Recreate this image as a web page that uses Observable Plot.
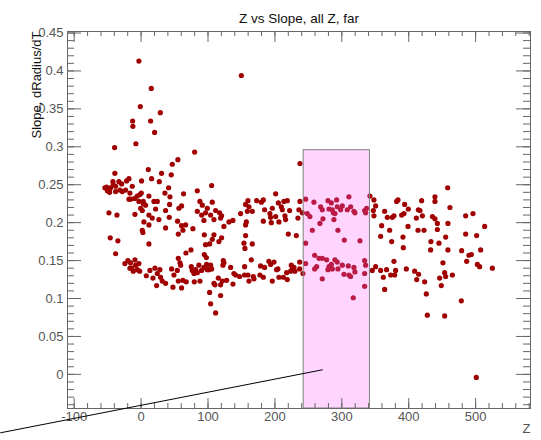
<!DOCTYPE html>
<html><head><meta charset="utf-8">
<script src="https://cdn.jsdelivr.net/npm/d3@7"></script>
<script src="https://cdn.jsdelivr.net/npm/@observablehq/plot@0.6"></script>
<style>body{margin:0;background:#fff}</style>
</head><body><div id="chart"></div>
<script>
// ---- data (Z, slope) ----
const highPoints = [[-3.3,0.413],[149.8,0.394],[15.2,0.377],[-1.2,0.353],[28.7,0.345],[-12.7,0.334],[14.2,0.334],[-12.3,0.327],[20.2,0.319],[-7.8,0.304],[-39.6,0.299],[80.0,0.293],[55.0,0.283],[46.6,0.277],[10.8,0.270],[-39.2,0.265],[30.6,0.265],[45.1,0.263],[237.4,0.278],[458.2,0.246]];
const leftUpper = [[-18.2,0.258],[15.7,0.258],[0.7,0.255],[27.2,0.254],[-21.7,0.255],[-42.2,0.254],[-33.2,0.254],[41.1,0.246],[105.4,0.249],[-51.6,0.247],[-47.1,0.243],[-38.1,0.248],[-29.1,0.251],[-28.1,0.241],[-23.2,0.243],[-16.7,0.239],[-13.2,0.248],[-9.7,0.232],[-18.2,0.231],[-1.8,0.237],[35.6,0.239],[43.1,0.234],[63.5,0.238],[84.0,0.242],[11.7,0.235],[19.2,0.228],[24.2,0.228],[3.3,0.228],[-48.1,0.213],[-36.1,0.210],[-9.2,0.211],[-0.7,0.219],[1.8,0.216],[6.7,0.223],[11.7,0.210],[4.2,0.201],[16.7,0.206],[21.7,0.218],[26.6,0.204],[11.7,0.197],[36.6,0.216],[42.6,0.224],[42.1,0.207],[60.5,0.222],[56.5,0.219],[54.5,0.202],[60.5,0.196],[66.5,0.197],[36.6,0.193],[1.8,0.190],[84.0,0.215],[87.9,0.228],[91.5,0.223],[99.0,0.219],[106.4,0.227],[90.5,0.210],[96.4,0.213],[103.9,0.210],[111.4,0.216],[117.3,0.213],[120.3,0.209],[108.9,0.204],[93.9,0.203],[118.8,0.206],[123.8,0.195],[131.3,0.201],[137.2,0.203],[148.7,0.212],[-54.1,0.246],[-50.5,0.242],[-45.6,0.246],[-41.6,0.250],[-31.7,0.243],[-15.7,0.231],[-5.7,0.235],[-3.3,0.228],[0.3,0.239],[3.3,0.225],[-38.1,0.241],[-47.1,0.240]];
const leftLower = [[2.7,0.187],[55.6,0.185],[62.5,0.190],[77.4,0.192],[94.5,0.184],[108.9,0.184],[106.4,0.178],[120.3,0.180],[116.3,0.175],[96.4,0.171],[-46.1,0.180],[-34.7,0.176],[11.7,0.172],[-38.1,0.159],[74.5,0.164],[67.0,0.160],[94.5,0.158],[97.5,0.154],[55.6,0.153],[58.1,0.147],[59.1,0.144],[122.9,0.150],[123.8,0.147],[122.3,0.144],[133.8,0.141],[147.2,0.129],[-24.2,0.146],[-19.7,0.150],[-15.7,0.147],[-14.2,0.140],[-9.2,0.151],[-8.2,0.144],[-5.7,0.138],[-3.3,0.146],[-11.7,0.136],[-2.2,0.136],[-16.7,0.140],[7.8,0.130],[13.2,0.137],[20.7,0.140],[24.2,0.133],[17.7,0.127],[28.1,0.138],[29.1,0.128],[31.6,0.123],[23.2,0.117],[36.6,0.120],[45.6,0.139],[49.1,0.131],[54.1,0.137],[55.6,0.123],[47.6,0.115],[60.5,0.114],[62.5,0.124],[67.5,0.122],[75.0,0.142],[76.5,0.137],[79.0,0.133],[81.5,0.138],[84.0,0.134],[86.4,0.144],[88.0,0.123],[79.5,0.122],[90.4,0.137],[93.9,0.141],[97.9,0.145],[98.9,0.138],[103.9,0.144],[101.4,0.138],[105.4,0.139],[108.9,0.120],[110.4,0.118],[102.4,0.108],[115.4,0.127],[118.8,0.118],[121.4,0.123],[118.8,0.104],[127.8,0.124],[137.3,0.119],[141.3,0.131],[103.9,0.093],[111.4,0.081],[138.7,0.133],[102.4,0.172]];
const middleUpper = [[201.1,0.238],[156.2,0.224],[161.2,0.221],[159.7,0.229],[172.6,0.229],[179.7,0.227],[182.7,0.230],[158.8,0.215],[166.2,0.215],[184.6,0.217],[192.5,0.212],[196.1,0.219],[193.6,0.207],[201.1,0.208],[205.1,0.226],[209.6,0.221],[213.5,0.228],[218.5,0.229],[211.1,0.217],[222.0,0.216],[215.0,0.209],[216.0,0.204],[206.0,0.201],[157.3,0.201],[182.7,0.202],[194.6,0.200],[235.9,0.217],[237.4,0.228],[234.4,0.206],[241.0,0.213],[245.9,0.231],[248.4,0.212],[252.3,0.208],[258.3,0.227],[268.3,0.221],[270.8,0.217],[271.8,0.205],[267.3,0.199],[279.3,0.229],[280.8,0.218],[284.3,0.226],[285.8,0.217],[287.3,0.213],[289.7,0.212],[288.2,0.204],[292.2,0.230],[293.2,0.221],[298.2,0.217],[300.7,0.222],[310.6,0.234],[308.2,0.217],[313.2,0.221],[318.1,0.215],[319.6,0.213],[334.1,0.216],[337.1,0.219],[335.6,0.213],[342.0,0.235],[348.0,0.230],[350.5,0.222],[347.1,0.216],[348.0,0.209],[364.0,0.215],[359.5,0.196],[294.2,0.190],[255.9,0.190],[156.2,0.197],[156.2,0.183],[153.7,0.173],[166.2,0.172],[155.2,0.166],[220.0,0.185],[232.0,0.183],[245.9,0.173],[303.7,0.177],[327.1,0.176],[358.0,0.182]];
const middleLower = [[164.7,0.151],[154.7,0.142],[178.6,0.143],[184.6,0.141],[191.0,0.149],[193.6,0.145],[198.6,0.148],[204.5,0.139],[224.5,0.144],[226.0,0.139],[228.4,0.141],[223.5,0.136],[229.9,0.136],[237.0,0.148],[237.0,0.139],[241.9,0.133],[245.9,0.146],[259.4,0.157],[265.9,0.153],[270.8,0.153],[277.3,0.151],[259.4,0.139],[262.4,0.142],[280.8,0.142],[279.3,0.138],[284.3,0.145],[285.8,0.139],[289.7,0.151],[293.2,0.148],[294.2,0.139],[300.7,0.144],[309.7,0.143],[318.1,0.141],[303.2,0.132],[310.6,0.131],[313.1,0.129],[319.6,0.135],[334.1,0.150],[335.6,0.144],[334.1,0.133],[334.1,0.116],[270.8,0.126],[317.1,0.101],[350.5,0.142],[345.5,0.137],[358.0,0.137],[362.0,0.128],[364.0,0.112],[154.7,0.131],[159.7,0.131],[161.2,0.123],[167.7,0.129],[168.7,0.126],[177.6,0.131],[182.7,0.128],[196.1,0.123],[202.5,0.138],[206.0,0.128],[212.6,0.128],[218.5,0.125],[217.5,0.134]];
const rightUpper = [[439.2,0.234],[439.2,0.228],[383.9,0.230],[381.9,0.228],[419.3,0.229],[393.9,0.224],[461.6,0.220],[399.4,0.218],[414.4,0.217],[416.8,0.216],[368.0,0.207],[375.5,0.207],[377.9,0.209],[389.4,0.210],[392.9,0.212],[411.4,0.206],[420.4,0.209],[435.4,0.208],[439.2,0.205],[442.8,0.199],[485.1,0.209],[496.0,0.212],[458.6,0.199],[513.5,0.195],[398.9,0.195],[442.8,0.191],[413.9,0.190],[422.8,0.190],[371.5,0.190],[485.1,0.185],[501.5,0.183],[374.5,0.175],[391.4,0.181],[391.9,0.167],[433.2,0.175],[445.2,0.173],[455.2,0.181]];
const rightLower = [[432.7,0.164],[458.6,0.164],[479.1,0.163],[507.5,0.164],[490.0,0.157],[493.6,0.158],[486.6,0.149],[502.6,0.145],[506.0,0.142],[525.0,0.140],[451.1,0.147],[377.9,0.149],[366.9,0.138],[380.4,0.137],[373.0,0.131],[378.9,0.131],[396.4,0.139],[408.8,0.136],[414.8,0.132],[411.9,0.125],[423.8,0.122],[426.3,0.106],[453.7,0.134],[455.2,0.129],[446.2,0.127],[465.2,0.131],[448.7,0.117],[478.6,0.097],[427.8,0.078],[453.7,0.077],[501.0,-0.004]];

// ---- axes, ticks, annotation ----
const zDomain = [-110, 582];
const slopeDomain = [-0.045, 0.452];
const zMajorTicks = [-100, 0, 100, 200, 300, 400, 500];
const zMinorStep = 20;
const slopeMajorTicks = [0, 0.05, 0.1, 0.15, 0.2, 0.25, 0.3, 0.35, 0.4, 0.45];
const slopeMinorStep = 0.01;
const boxZ = [243, 342];
const boxSlopeTop = 0.2955;
const guideLine = [[-210, -0.077], [271, 0.006]];
const titleText = "Z vs Slope, all Z, far";
const yLabel = "Slope, dRadius/dT";
const xLabel = "Z";

const W = 541, H = 440, mL = 67, mR = 11, mT = 31, mB = 32;
const fw = W - mL - mR, fh = H - mT - mB;

const points = [...highPoints, ...leftUpper, ...leftLower, ...middleUpper, ...middleLower, ...rightUpper, ...rightLower]
  .map(([z, s]) => ({z, s}));
const zMinor = d3.range(-100, 581, zMinorStep);
const slopeMinor = d3.range(-4, 46).map(i => +(i * slopeMinorStep).toFixed(2));
const fmtSlope = d => String(+d.toFixed(2));
const axisColor = "#666";

const chart = Plot.plot({
  width: W, height: H,
  marginLeft: mL, marginRight: mR, marginTop: mT, marginBottom: mB,
  style: {fontFamily: "'Liberation Sans', Arial, Helvetica, sans-serif", fontSize: "13px", background: "#fff", overflow: "visible"},
  x: {domain: zDomain, label: null},
  y: {domain: slopeDomain, label: null},
  marks: [
    Plot.dot(points, {x: "z", y: "s", r: 2.6, fill: "#a00000", stroke: "none"}),
    Plot.rect([{}], {x1: boxZ[0], x2: boxZ[1], y1: slopeDomain[0], y2: boxSlopeTop,
      fill: "rgb(255,100,255)", fillOpacity: 0.27, stroke: "#808080", strokeWidth: 1}),
    // bottom / top ticks (inside)
    Plot.tickX(zMinor, {x: d => d, insetTop: fh - 5, stroke: axisColor}),
    Plot.tickX(zMajorTicks, {x: d => d, insetTop: fh - 10, stroke: axisColor}),
    Plot.tickX(zMinor, {x: d => d, insetBottom: fh - 5, stroke: axisColor}),
    Plot.tickX(zMajorTicks, {x: d => d, insetBottom: fh - 11, stroke: axisColor}),
    // left / right ticks (inside)
    Plot.tickY(slopeMinor, {y: d => d, insetRight: fw - 7, stroke: axisColor}),
    Plot.tickY(slopeMajorTicks, {y: d => d, insetRight: fw - 14, stroke: axisColor}),
    Plot.tickY(slopeMinor, {y: d => d, insetLeft: fw - 7, stroke: axisColor}),
    Plot.tickY(slopeMajorTicks, {y: d => d, insetLeft: fw - 14, stroke: axisColor}),
    Plot.frame({stroke: axisColor}),
    Plot.axisX(zMajorTicks, {tickSize: 0, tickPadding: 3, tickFormat: d => String(d), fill: "#555", fontSize: 13, label: null}),
    Plot.axisY(slopeMajorTicks, {tickSize: 0, tickPadding: 4, tickFormat: fmtSlope, fill: "#555", fontSize: 13, label: null}),
    Plot.line(guideLine, {x: d => d[0], y: d => d[1], stroke: "#000", strokeWidth: 1}),
    Plot.text([titleText], {frameAnchor: "top", dy: -18, fontSize: 13.5, fill: "#111"}),
    Plot.text([yLabel], {frameAnchor: "top-left", dx: -36, dy: 0, rotate: -90, textAnchor: "end", fontSize: 13, fill: "#111"}),
    Plot.text([xLabel], {frameAnchor: "bottom-right", dx: 0, dy: 24, textAnchor: "end", fontSize: 13, fill: "#555"})
  ]
});
document.getElementById("chart").appendChild(chart);
</script>
</body></html>
